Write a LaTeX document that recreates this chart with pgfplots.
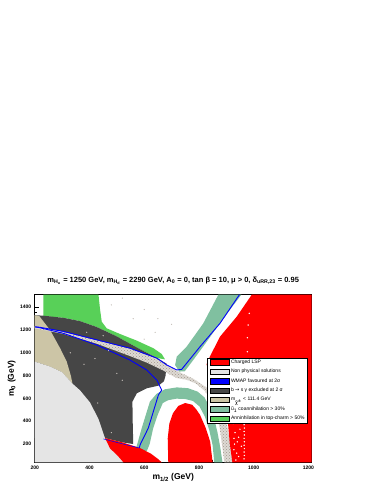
\documentclass[border=0pt]{standalone}
\usepackage{fontspec}
\setmainfont{Liberation Sans}
\newfontfamily\dejavu{DejaVu Sans}
\usepackage{pgfplots}
\pgfplotsset{compat=1.18}
\usetikzlibrary{patterns}
\definecolor{cred}{RGB}{255,0,0}
\definecolor{clgray}{RGB}{229,229,229}
\definecolor{cblue}{RGB}{0,0,255}
\definecolor{cdgray}{RGB}{70,70,70}
\definecolor{ctan}{RGB}{204,197,166}
\definecolor{cteal}{RGB}{128,192,160}
\definecolor{cgreen}{RGB}{88,208,88}
\definecolor{cband}{RGB}{222,218,212}
\definecolor{cspeck}{RGB}{160,150,140}
\newcommand{\sw}[1]{\addlegendimage{legend image code/.code={\draw[fill=#1,draw=black,line width=0.4pt] (0pt,-2.6pt) rectangle (19pt,2.6pt);}}}
\begin{document}
\begin{tikzpicture}[x=1pt,y=1pt]
\useasboundingbox (0,0) rectangle (374,484);
\begin{axis}[
  at={(34.7pt,21.7pt)}, anchor=south west,
  scale only axis, width=277pt, height=167.6pt,
  xmin=200, xmax=1212, ymin=40, ymax=1510,
  axis line style={line width=0.6pt},
  tick align=inside, xtick pos=bottom, ytick pos=left,
  major tick length=4pt, minor tick length=2pt,
  xtick={200,400,...,1200}, ytick={200,400,...,1400},
  minor x tick num=3, minor y tick num=4,
  tick style={line width=0.4pt,black},
  /pgf/number format/assume math mode=true,
  /pgf/number format/1000 sep={},
  tick label style={font=\fontsize{5}{6}\selectfont\bfseries},
  xlabel={m\textsubscript{1/2} (GeV)},
  ylabel={m\textsubscript{0} (GeV)},
  label style={font=\fontsize{8.5}{10}\selectfont\bfseries},
  xlabel style={at={(axis description cs:0.5,0)}, anchor=base, yshift=-17.2pt},
  ylabel style={at={(axis description cs:0,0.5)}, anchor=center, yshift=23pt},
  title={m\textsubscript{H\textsubscript{u}} = 1250 GeV, m\textsubscript{H\textsubscript{d}} = 2290 GeV, A\textsubscript{0} = 0, tan β = 10, μ > 0, δ\textsubscript{uRR,23} = 0.95},
  title style={font=\fontsize{7.5}{8}\selectfont\bfseries, at={(axis description cs:0.5,1)}, anchor=base, yshift=6.2pt},
  legend style={at={(0.623,0.625)}, anchor=north west, draw=black, line width=0.5pt, fill=white,
     font=\fontsize{5}{5.5}\selectfont, inner xsep=2pt, inner ysep=1pt, row sep=2.5pt,
     nodes={inner sep=0.9pt},
     /tikz/every odd column/.append style={column sep=1.2pt}},
  legend cell align=left,
]
% green: annihilation top-charm
\addplot[fill=cgreen, draw=none, forget plot] coordinates {
(232,1510) (433,1510) (439,1376) (445,1273) (463,1215) (512,1165) (573,1107) (634,1040) (664,990) (676,943)
(646,955) (573,1047) (500,1144) (427,1226) (366,1278) (305,1307) (232,1323)} -- cycle;
% dark gray: b -> s gamma
\addplot[fill=cdgray, draw=none, forget plot] coordinates {
(200,1330) (232,1326) (305,1307) (366,1278) (427,1226) (500,1144) (573,1047) (646,955) (682,905)
(678,800) (672,750) (652,712) (609,689) (573,645) (557,572) (558,400) (560,200) (520,215) (457,252) (200,252)} -- cycle;
% tan: chargino mass
\addplot[fill=ctan, draw=none, forget plot] coordinates {
(200,1330) (217,1322) (256,1200) (293,1040) (317,923) (332,800) (338,730) (300,830) (256,880) (200,923)} -- cycle;
% light gray: non physical
\addplot[fill=clgray, draw=none, forget plot] coordinates {
(200,40) (200,923) (256,880) (300,830) (338,730) (366,670) (402,565) (433,420) (457,250) (475,163) (506,90) (524,40)} -- cycle;
% speckled band
\addplot[fill=cband, draw=none, forget plot, postaction={pattern=crosshatch dots, pattern color=cspeck}] coordinates {
(200,1232) (219,1224) (305,1184) (427,1110) (548,1037) (646,950) (690,885) (720,840) (780,772) (830,692) (865,600)
(890,480) (905,340) (915,200) (922,40) (893,40) (884,200) (876,340) (862,480) (845,590) (820,670) (790,730)
(755,765) (720,778) (690,815) (670,845) (609,915) (548,972) (427,1080) (305,1166) (219,1206) (200,1212)} -- cycle;
% teal upper band
\addplot[fill=cteal, draw=none, forget plot] coordinates {
(871,1510) (955,1510) (885,1288) (824,1083) (775,923) (748,838) (728,836) (713,893) (719,967) (755,1054) (816,1259)} -- cycle;
% teal arch
\addplot[fill=cteal, draw=none, forget plot] coordinates {
(570,160) (591,340) (621,573) (645,640) (675,680) (719,697) (760,690) (795,660) (820,610) (840,520) (856,420)
(868,300) (878,170) (886,40) (856,40) (850,190) (838,320) (822,440) (802,530) (778,578) (750,595) (718,598)
(688,585) (668,560) (650,460) (633,340) (620,200) (609,135) (590,140)} -- cycle;
% red bottom-left
\addplot[fill=cred, draw=none, forget plot] coordinates {
(457,252) (520,215) (585,165) (625,115) (650,70) (664,40) (524,40) (506,90) (475,163)} -- cycle;
% red blob
\addplot[fill=cred, draw=none, forget plot] coordinates {
(688,40) (686,250) (692,380) (705,470) (725,535) (750,560) (775,545) (790,505) (804,456) (825,340) (841,222) (850,40)} -- cycle;
% red right
\addplot[fill=cred, draw=none, forget plot] coordinates {
(993,1510) (1212,1510) (1212,40) (922,40) (913,200) (905,413) (880,600) (840,800) (828,900) (840,967) (877,1142) (938,1317)} -- cycle;
% WMAP lines
\addplot[cblue, line width=0.9pt, forget plot] coordinates {
(202,1228) (219,1224) (305,1188) (427,1114) (548,1041) (646,954) (682,894) (719,850) (737,855) (804,1054) (877,1259) (948,1510)};
\addplot[cblue, line width=0.9pt, forget plot] coordinates {
(202,1228) (219,1220) (305,1171) (427,1069) (548,937) (609,850) (646,762) (664,674) (652,631) (615,340) (585,193) (582,165)};
\addplot[cblue, line width=0.5pt, forget plot] coordinates {
(582,165) (561,178) (512,207) (451,245)};
% white speckles in the red region
\addplot[only marks, mark=*, mark size=0.45pt, white, forget plot] coordinates {
(984,1346) (980,1244) (977,1133) (977,1010)
(965,400) (965,370) (966,340) (965,310) (966,280) (965,250) (966,220) (965,190) (966,160) (965,130) (966,100) (965,70)
(925,380) (932,300) (940,220) (928,150) (945,90) (935,60) (950,330) (928,250) (938,120) (955,180) (945,260) (930,200)};
% gray speckles scattered in dark and white areas
\addplot[only marks, mark=*, mark size=0.35pt, color=cspeck!60!white, forget plot] coordinates {
(330,1000) (380,900) (420,950) (470,1020) (500,820) (520,760) (390,1180) (450,1150) (600,1120) (640,1180)
(560,1300) (600,1380) (480,1420) (520,1480) (700,1250) (650,1300) (430,560) (480,300)};
% legend
\sw{cred}\addlegendentry{Charged LSP}
\sw{clgray}\addlegendentry{Non physical solutions}
\sw{cblue}\addlegendentry{WMAP favoured at 2σ}
\sw{cdgray}\addlegendentry{b {\dejavu →} s γ excluded at 2 σ}
\sw{ctan}\addlegendentry{m\textsubscript{{\dejavu χ̃}\textsuperscript{±}} < 111.4 GeV}
\sw{cteal}\addlegendentry{ũ\textsubscript{1} coannihilation > 30\%}
\sw{cgreen}\addlegendentry{Anninhilation in top-charm > 50\%}
\end{axis}
\end{tikzpicture}
\end{document}
